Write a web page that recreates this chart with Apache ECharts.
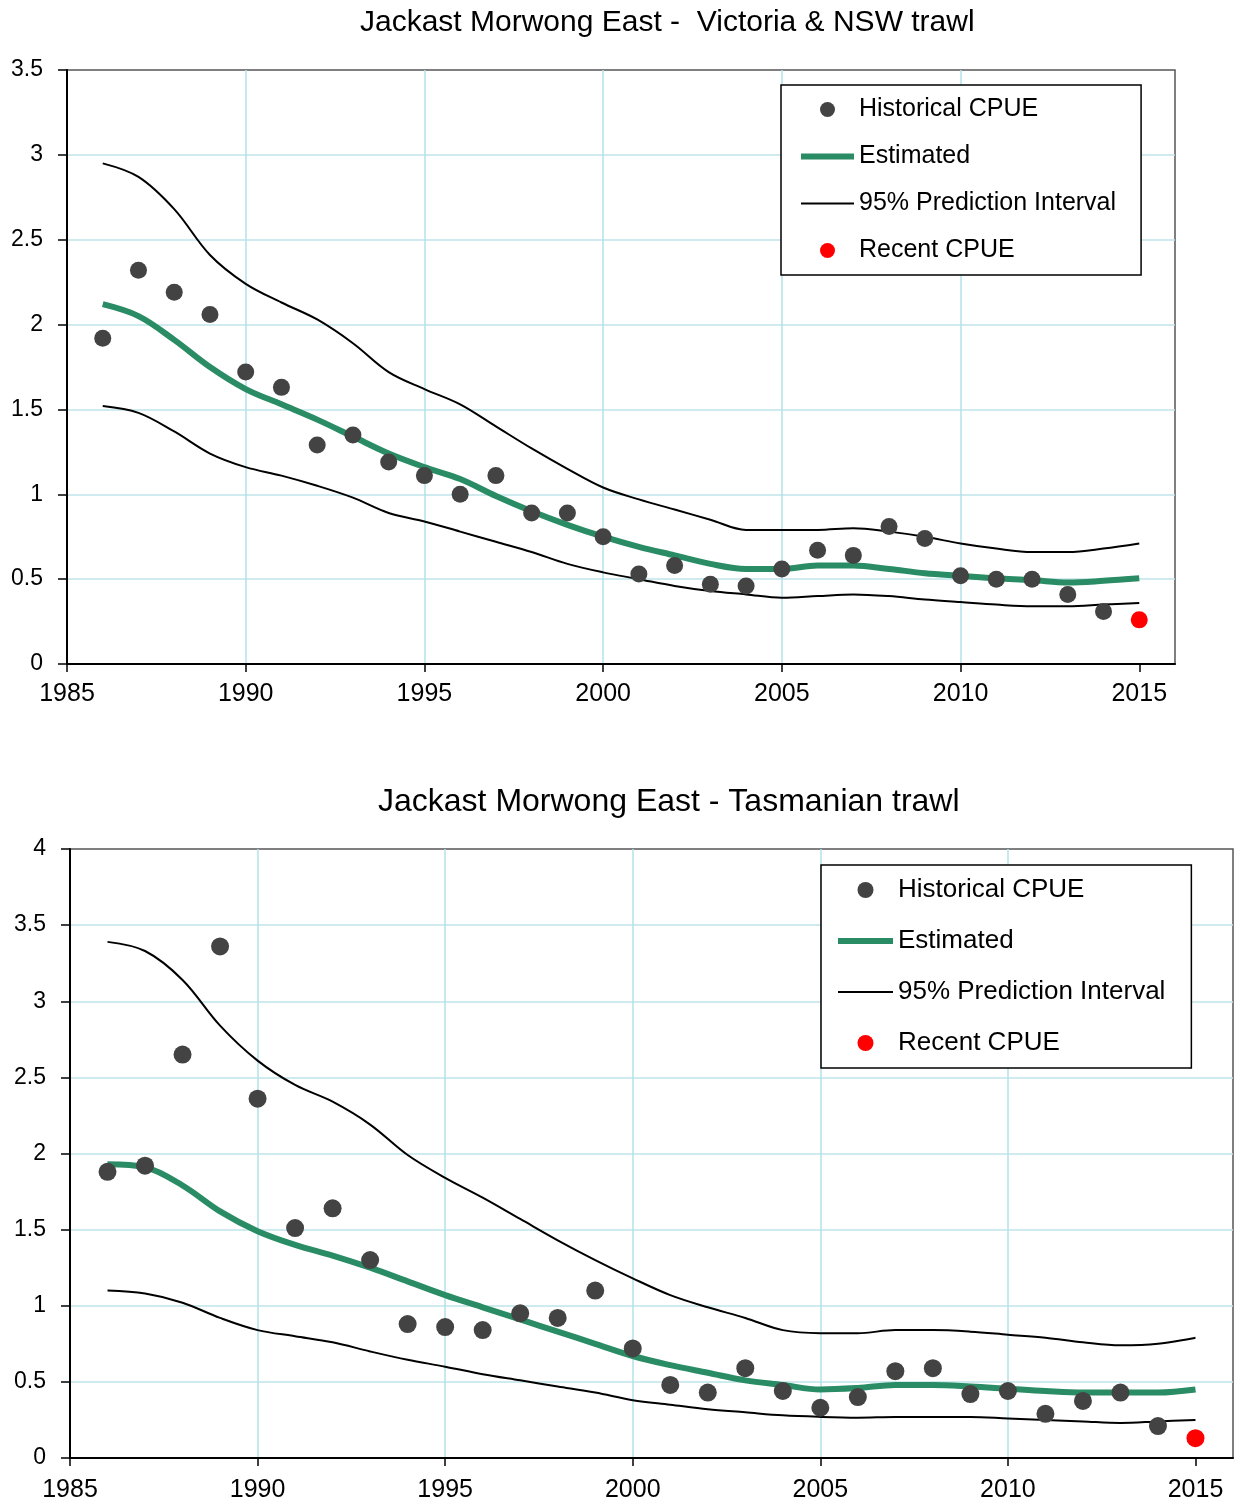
<!DOCTYPE html>
<html>
<head>
<meta charset="utf-8">
<script src="https://cdn.jsdelivr.net/npm/echarts@6/dist/echarts.min.js"></script>
<style>
  html, body { margin: 0; padding: 0; background: #ffffff; }
  #chart { width: 1240px; height: 1504px; }
</style>
</head>
<body>
<div id="chart"></div>
<script>
// ---------- Data ----------
const years = [1986,1987,1988,1989,1990,1991,1992,1993,1994,1995,1996,1997,1998,1999,2000,
               2001,2002,2003,2004,2005,2006,2007,2008,2009,2010,2011,2012,2013,2014,2015];
const histYears = years.slice(0, 29);
const recentYear = 2015;
const xTicks = [1985, 1990, 1995, 2000, 2005, 2010, 2015];

const title1 = 'Jackast Morwong East -  Victoria & NSW trawl';
const title2 = 'Jackast Morwong East - Tasmanian trawl';

// Chart 1: Victoria & NSW trawl
const hist1 = [1.92,2.32,2.19,2.06,1.72,1.63,1.29,1.35,1.19,1.11,1.00,1.11,0.89,0.89,0.75,
               0.53,0.58,0.47,0.46,0.56,0.67,0.64,0.81,0.74,0.52,0.50,0.50,0.41,0.31];
const est1  = [2.12,2.05,1.91,1.75,1.62,1.53,1.44,1.34,1.24,1.16,1.09,0.99,0.90,0.82,0.75,
               0.69,0.64,0.59,0.56,0.56,0.58,0.58,0.56,0.535,0.52,0.505,0.495,0.48,0.49,0.505];
const up1   = [2.95,2.87,2.68,2.41,2.24,2.13,2.03,1.89,1.72,1.62,1.53,1.40,1.27,1.15,1.04,
               0.97,0.91,0.85,0.79,0.79,0.79,0.80,0.78,0.75,0.71,0.68,0.66,0.66,0.68,0.71];
const lo1   = [1.52,1.48,1.37,1.24,1.16,1.11,1.05,0.98,0.89,0.84,0.78,0.72,0.66,0.59,0.54,
               0.50,0.46,0.43,0.41,0.39,0.40,0.41,0.40,0.38,0.365,0.35,0.34,0.34,0.35,0.36];
const recent1 = [0.26];

// Chart 2: Tasmanian trawl
const hist2 = [1.88,1.92,2.65,3.36,2.36,1.51,1.64,1.30,0.88,0.86,0.84,0.95,0.92,1.10,0.72,
               0.48,0.43,0.59,0.44,0.33,0.40,0.57,0.59,0.42,0.44,0.29,0.375,0.43,0.21];
const est2  = [1.93,1.91,1.79,1.62,1.49,1.40,1.33,1.25,1.16,1.07,0.99,0.91,0.83,0.75,0.67,
               0.61,0.56,0.51,0.48,0.45,0.46,0.48,0.48,0.47,0.455,0.44,0.43,0.43,0.43,0.45];
const up2   = [3.39,3.33,3.14,2.84,2.61,2.45,2.34,2.19,1.99,1.84,1.71,1.57,1.43,1.30,1.18,
               1.07,0.99,0.92,0.84,0.82,0.82,0.84,0.84,0.83,0.81,0.79,0.76,0.74,0.75,0.79];
const lo2   = [1.10,1.08,1.02,0.92,0.84,0.80,0.76,0.70,0.645,0.60,0.55,0.51,0.47,0.43,0.38,
               0.35,0.32,0.30,0.28,0.27,0.265,0.27,0.27,0.27,0.26,0.25,0.24,0.23,0.24,0.25];
const recent2 = [0.13];

const legendNames = ['Historical CPUE', 'Estimated', '95% Prediction Interval', 'Recent CPUE'];

// ---------- Helpers ----------
const FONT = '"Liberation Sans", Arial, sans-serif';
const GREEN = '#2a8c65';
const DOT = '#434343';
const pair = (xs, ys) => ys.map((v, i) => [xs[i], v]);

function legendData(w) {
  return [
    { name: legendNames[0] },
    { name: legendNames[1], icon: 'path://M0,0 L' + w + ',0 L' + w + ',6 L0,6 Z', itemStyle: { color: GREEN } },
    { name: legendNames[2], icon: 'path://M0,0 L' + w + ',0 L' + w + ',2 L0,2 Z', itemStyle: { color: '#000' } },
    { name: legendNames[3] }
  ];
}

function xAxisCfg(gridIndex, fontSize, margin) {
  return {
    type: 'value', gridIndex: gridIndex, min: 1985, max: 2016, interval: 5,
    axisLine: { show: true, onZero: false, lineStyle: { color: '#000', width: 2 } },
    axisTick: { show: true, length: 8, lineStyle: { color: '#000', width: 1.5 }, customValues: xTicks },
    axisLabel: { color: '#000', fontSize: fontSize, fontFamily: FONT, margin: margin, customValues: xTicks,
                 formatter: v => String(v) },
    splitLine: { show: true, showMinLine: false, showMaxLine: false, lineStyle: { color: '#b3e2ea', width: 1.5 } }
  };
}
function yAxisCfg(gridIndex, max, fontSize) {
  return {
    type: 'value', gridIndex: gridIndex, min: 0, max: max, interval: 0.5,
    axisLine: { show: true, lineStyle: { color: '#000', width: 2 } },
    axisTick: { show: true, length: 9, lineStyle: { color: '#000', width: 1.5 } },
    axisLabel: { color: '#000', fontSize: fontSize, fontFamily: FONT, margin: 24 },
    splitLine: { show: true, showMinLine: false, showMaxLine: false, lineStyle: { color: '#bfe4ea', width: 1.5 } }
  };
}
function seriesFor(idx, hist, est, up, lo, recent, dot) {
  return [
    { name: 'Historical CPUE', type: 'scatter', xAxisIndex: idx, yAxisIndex: idx,
      data: pair(histYears, hist), symbol: 'circle', symbolSize: dot, z: 5,
      itemStyle: { color: DOT, opacity: 1 } },
    { name: 'Estimated', type: 'line', xAxisIndex: idx, yAxisIndex: idx,
      data: pair(years, est), symbol: 'none', smooth: 0.35, z: 3,
      lineStyle: { color: GREEN, width: 6 }, itemStyle: { color: GREEN } },
    { name: '95% Prediction Interval', type: 'line', xAxisIndex: idx, yAxisIndex: idx,
      data: pair(years, up), symbol: 'none', smooth: 0.35, z: 2,
      lineStyle: { color: '#000', width: 2 }, itemStyle: { color: '#000' } },
    { name: '95% Prediction Interval', type: 'line', xAxisIndex: idx, yAxisIndex: idx,
      data: pair(years, lo), symbol: 'none', smooth: 0.35, z: 2,
      lineStyle: { color: '#000', width: 2 }, itemStyle: { color: '#000' } },
    { name: 'Recent CPUE', type: 'scatter', xAxisIndex: idx, yAxisIndex: idx,
      data: pair([recentYear], recent), symbol: 'circle', symbolSize: dot, z: 6,
      itemStyle: { color: '#ff0000', opacity: 1 } }
  ];
}

const chart = echarts.init(document.getElementById('chart'), null, { renderer: 'canvas' });
chart.setOption({
  backgroundColor: '#ffffff',
  animation: false,
  textStyle: { fontFamily: FONT },
  title: [
    { text: title1, left: 360, top: 8, padding: 0,
      textStyle: { fontSize: 30, fontWeight: 'normal', color: '#000', fontFamily: FONT } },
    { text: title2, left: 378, top: 786, padding: 0,
      textStyle: { fontSize: 32, fontWeight: 'normal', color: '#000', fontFamily: FONT } }
  ],
  legend: [
    { data: legendData(53), orient: 'vertical', left: 781, top: 85,
      padding: [12, 25, 12, 20], itemGap: 22, itemWidth: 53, itemHeight: 15,
      backgroundColor: '#fff', borderColor: '#000', borderWidth: 1.5,
      textStyle: { fontSize: 25, lineHeight: 25, color: '#000', fontFamily: FONT },
      selectedMode: false },
    { data: legendData(55), orient: 'vertical', left: 821, top: 865,
      padding: [12, 26, 12, 17], itemGap: 25, itemWidth: 55, itemHeight: 16,
      backgroundColor: '#fff', borderColor: '#000', borderWidth: 1.5,
      textStyle: { fontSize: 26, lineHeight: 26, color: '#000', fontFamily: FONT },
      selectedMode: false }
  ],
  grid: [
    { left: 67, top: 70, width: 1108, height: 594, show: true, borderColor: '#555', borderWidth: 1.5, containLabel: false },
    { left: 70, top: 849, width: 1163, height: 609, show: true, borderColor: '#555', borderWidth: 1.5, containLabel: false }
  ],
  xAxis: [ xAxisCfg(0, 25, 18), xAxisCfg(1, 25, 20) ],
  yAxis: [ yAxisCfg(0, 3.5, 23), yAxisCfg(1, 4, 23) ],
  series: [].concat(
    seriesFor(0, hist1, est1, up1, lo1, recent1, 17),
    seriesFor(1, hist2, est2, up2, lo2, recent2, 18)
  )
});
</script>
</body>
</html>
